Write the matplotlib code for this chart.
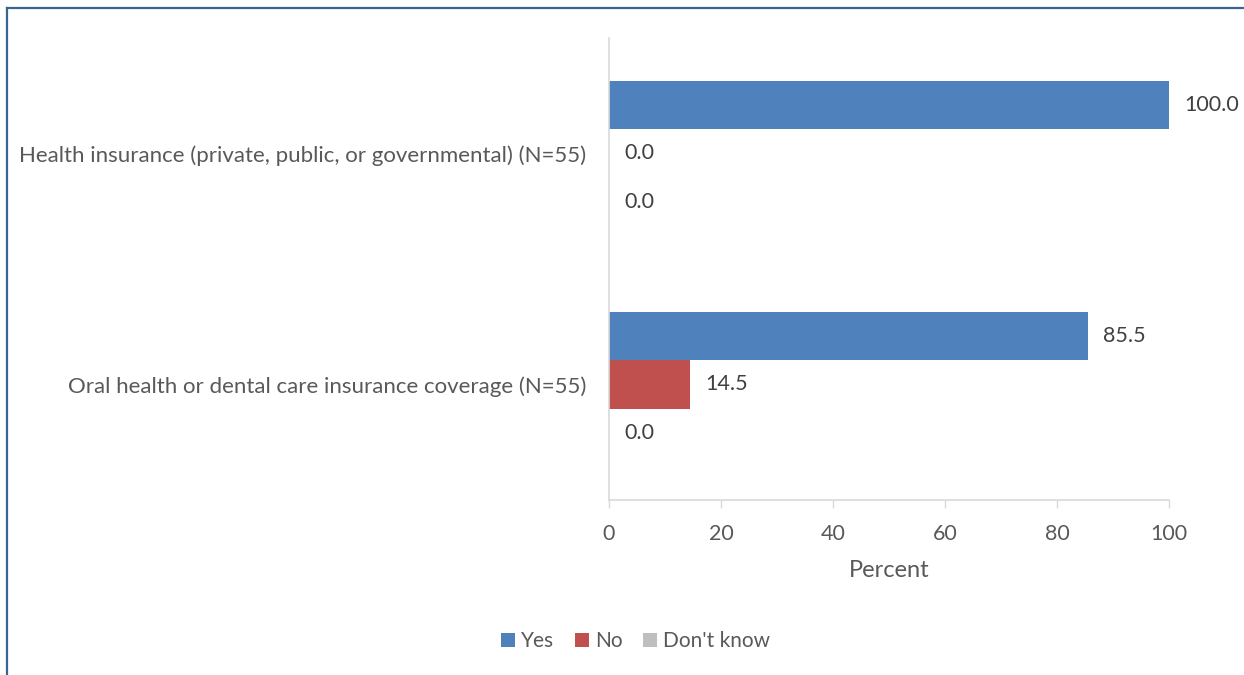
import matplotlib
matplotlib.use("Agg")
import matplotlib.pyplot as plt
from matplotlib.lines import Line2D
import numpy as np

plt.rcParams['font.family'] = ['Lato', 'DejaVu Sans']

# data
categories = ["Health insurance (private, public, or governmental) (N=55)",
              "Oral health or dental care insurance coverage (N=55)"]
series_names = ["Yes", "No", "Don't know"]
yes_vals = [100.0, 85.5]
no_vals = [0.0, 14.5]
dk_vals = [0.0, 0.0]
colors = ["#4F81BD", "#C0504D", "#BFBFBF"]
text_color = "#595959"
axis_color = "#D9D9D9"

fig = plt.figure(figsize=(12.44, 6.75), dpi=100)
ax = fig.add_axes([0.4896, 0.2593, 0.4502, 0.6844])

y = np.arange(len(categories))
h = 0.208
offsets = [-h, 0, h]
for vals, off, col, name in zip([yes_vals, no_vals, dk_vals], offsets, colors, series_names):
    bars = ax.barh(y + off, vals, height=h, color=col, label=name)
    for b, v in zip(bars, vals):
        ax.annotate(f"{v:.1f}", (b.get_width(), b.get_y() + b.get_height() / 2),
                    xytext=(11, 0), textcoords="offset points",
                    va="center", ha="left", fontsize=15.5, color="#404040")

ax.set_ylim(1.5, -0.5)
ax.set_xlim(0, 100)
ax.set_xticks([0, 20, 40, 60, 80, 100])
ax.set_yticks(y)
ax.set_yticklabels(categories)
ax.tick_params(axis='y', length=0, pad=16.5, labelsize=16, labelcolor=text_color)
ax.tick_params(axis='x', length=6, width=1, color=axis_color, pad=11,
               labelsize=15.5, labelcolor=text_color)
for s in ["top", "right"]:
    ax.spines[s].set_visible(False)
for s in ["left", "bottom"]:
    ax.spines[s].set_color(axis_color)
    ax.spines[s].set_linewidth(1.2)
ax.set_xlabel("Percent", fontsize=17, color=text_color, labelpad=12)

fig.legend(loc="center", bbox_to_anchor=(0.511, 0.05), ncol=3, frameon=False,
           fontsize=15, labelcolor=text_color, handlelength=0.65, handleheight=0.65,
           handletextpad=0.3, columnspacing=1.0)

# outer frame (left and top edges)
fig.add_artist(Line2D([6.5 / 1244, 6.5 / 1244], [0, 1 - 7.5 / 675],
                      transform=fig.transFigure, color="#3A6593", lw=1.6))
fig.add_artist(Line2D([6.5 / 1244, 1], [1 - 7.5 / 675, 1 - 7.5 / 675],
                      transform=fig.transFigure, color="#3A6593", lw=1.6))

fig.savefig("out.png", dpi=100)
